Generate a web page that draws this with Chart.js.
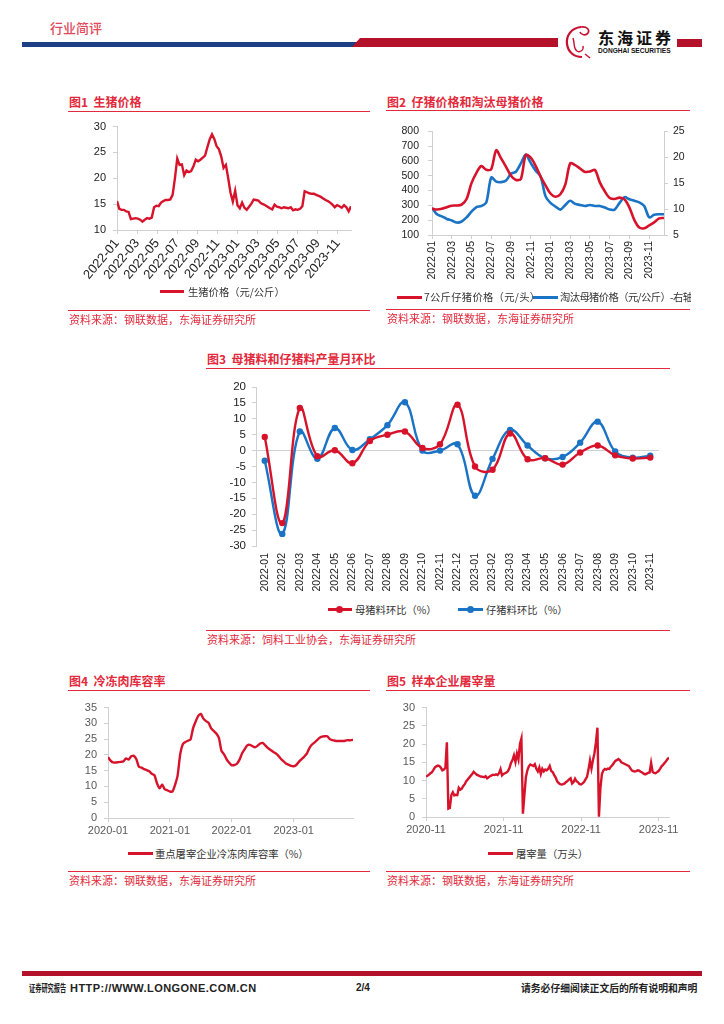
<!DOCTYPE html>
<html>
<head>
<meta charset="utf-8">
<script src="https://cdn.jsdelivr.net/npm/chart.js@4.4.0/dist/chart.umd.min.js"></script>
<style>
  html, body { margin:0; padding:0; background:#fff; }
  #page { position:relative; width:724px; height:1024px; overflow:hidden; background:#fff;
          font-family:"Noto Sans CJK SC","Liberation Sans",sans-serif; }
  .abs { position:absolute; }
  .title { position:absolute; font-size:12px; font-weight:700; color:#e22a3c; line-height:14px; white-space:nowrap; }
  .rule { position:absolute; height:1px; background:#e22a3c; }
  .src { position:absolute; font-size:11px; color:#e22a3c; line-height:13px; white-space:nowrap; }
  .leg { position:absolute; font-size:10.3px; color:#333; line-height:12px; white-space:nowrap; }
  .sw { position:absolute; height:3px; }
  .dot { position:absolute; width:7px; height:7px; border-radius:50%; }
  .foot { position:absolute; top:982px; font-size:10px; line-height:12px; font-weight:700; color:#222; white-space:nowrap; }
  canvas { position:absolute; }
</style>
</head>
<body>
<div id="page">
  <!-- header -->
  <div class="abs" style="left:50px;top:20px;font-size:13px;line-height:16px;color:#e04858;font-weight:500;">行业简评</div>
  <div class="abs" style="left:22px;top:42px;width:336px;height:5px;background:#1d3f86;"></div>
  <div class="abs" style="left:352px;top:38px;width:206px;height:9px;background:#b3122a;clip-path:polygon(8px 0,100% 0,100% 100%,0 100%);"></div>
  <svg class="abs" style="left:561px;top:24px;" width="34" height="36" viewBox="0 0 34 36">
    <path d="M20 3 C10 4 5 12 6 20 C7 28 13 33 21 33" fill="none" stroke="#c8102e" stroke-width="2.2"/>
    <path d="M20 3 C26 2 29 6 27 9 C25 12 20 11 19 8" fill="none" stroke="#c8102e" stroke-width="1.6"/>
    <path d="M12 14 C14 20 12 24 16 27 C19 29 23 26 22 22" fill="none" stroke="#c8102e" stroke-width="1.4"/>
    <path d="M24 30 L29 34" stroke="#c8102e" stroke-width="1.4"/>
  </svg>
  <div class="abs" style="left:598px;top:28px;font-size:16px;line-height:18px;font-weight:700;color:#111;letter-spacing:3px;">东海证券</div>
  <div class="abs" style="left:598px;top:47px;font-size:6.6px;line-height:7px;font-weight:700;color:#111;font-family:'Liberation Sans',sans-serif;">DONGHAI SECURITIES</div>
  <div class="abs" style="left:677px;top:39px;width:25px;height:8px;background:#b3122a;"></div>

  <!-- chart 1 -->
  <div class="title" style="left:69px;top:95px;">图1&nbsp;&nbsp;生猪价格</div>
  <div class="rule" style="left:68px;top:111px;width:302px;"></div>
  <canvas id="c1" style="left:68px;top:113px;" width="300" height="175"></canvas>
  <div class="sw" style="left:160px;top:290px;width:24px;background:#d7132b;"></div>
  <div class="leg" style="left:188px;top:286px;">生猪价格（元/公斤）</div>
  <div class="rule" style="left:68px;top:310px;width:302px;"></div>
  <div class="src" style="left:69px;top:313px;">资料来源：钢联数据，东海证券研究所</div>

  <!-- chart 2 -->
  <div class="title" style="left:387px;top:95px;">图2&nbsp;&nbsp;仔猪价格和淘汰母猪价格</div>
  <div class="rule" style="left:386px;top:110px;width:304px;"></div>
  <canvas id="c2" style="left:386px;top:116px;" width="310" height="172"></canvas>
  <div class="abs" style="left:386px;top:288px;width:305px;height:18px;overflow:hidden;">
    <div class="sw" style="left:11px;top:8px;width:25px;background:#d7132b;"></div>
    <div class="leg" style="left:38px;top:3px;letter-spacing:0.3px;">7公斤仔猪价格（元/头）</div>
    <div class="sw" style="left:147px;top:8px;width:25px;background:#1a73c4;"></div>
    <div class="leg" style="left:174px;top:3px;letter-spacing:-0.6px;">淘汰母猪价格（元/公斤）-右轴</div>
  </div>
  <div class="rule" style="left:386px;top:309px;width:304px;"></div>
  <div class="src" style="left:387px;top:312px;">资料来源：钢联数据，东海证券研究所</div>

  <!-- chart 3 -->
  <div class="title" style="left:207px;top:352px;">图3&nbsp;&nbsp;母猪料和仔猪料产量月环比</div>
  <div class="rule" style="left:206px;top:368px;width:464px;"></div>
  <canvas id="c3" style="left:206px;top:372px;" width="464" height="228"></canvas>
  <div class="sw" style="left:328px;top:608px;width:24px;background:#d7132b;"></div>
  <div class="dot" style="left:336px;top:606px;background:#d7132b;"></div>
  <div class="leg" style="left:355px;top:604px;">母猪料环比（%）</div>
  <div class="sw" style="left:458px;top:608px;width:25px;background:#1a73c4;"></div>
  <div class="dot" style="left:467px;top:606px;background:#1a73c4;"></div>
  <div class="leg" style="left:486px;top:604px;">仔猪料环比（%）</div>
  <div class="rule" style="left:206px;top:630px;width:464px;"></div>
  <div class="src" style="left:207px;top:633px;">资料来源：饲料工业协会，东海证券研究所</div>

  <!-- chart 4 -->
  <div class="title" style="left:69px;top:674px;">图4&nbsp;&nbsp;冷冻肉库容率</div>
  <div class="rule" style="left:68px;top:690px;width:302px;"></div>
  <canvas id="c4" style="left:68px;top:694px;" width="300" height="148"></canvas>
  <div class="sw" style="left:128px;top:852px;width:25px;background:#d7132b;"></div>
  <div class="leg" style="left:155px;top:848px;">重点屠宰企业冷冻肉库容率（%）</div>
  <div class="rule" style="left:68px;top:871px;width:302px;"></div>
  <div class="src" style="left:69px;top:874px;">资料来源：钢联数据，东海证券研究所</div>

  <!-- chart 5 -->
  <div class="title" style="left:387px;top:674px;">图5&nbsp;&nbsp;样本企业屠宰量</div>
  <div class="rule" style="left:386px;top:690px;width:304px;"></div>
  <canvas id="c5" style="left:386px;top:694px;" width="300" height="148"></canvas>
  <div class="sw" style="left:488px;top:852px;width:25px;background:#d7132b;"></div>
  <div class="leg" style="left:516px;top:848px;">屠宰量（万头）</div>
  <div class="rule" style="left:386px;top:871px;width:304px;"></div>
  <div class="src" style="left:387px;top:874px;">资料来源：钢联数据，东海证券研究所</div>

  <!-- footer -->
  <div class="abs" style="left:22px;top:971px;width:680px;height:5px;background:#b3122a;"></div>
  <div class="foot" style="left:29px;transform:scaleX(0.62);transform-origin:left center;">证券研究报告</div>
  <div class="foot" style="left:70px;font-size:11px;letter-spacing:0.45px;font-family:'Liberation Sans',sans-serif;">HTTP://WWW.LONGONE.COM.CN</div>
  <div class="foot" style="left:356px;font-family:'Liberation Sans',sans-serif;">2/4</div>
  <div class="foot" style="left:521px;transform:scaleX(0.98);transform-origin:left center;">请务必仔细阅读正文后的所有说明和声明</div>
</div>

<script>
// ---------------- DATA ----------------
// Chart 1: live hog price (yuan/kg), weekly from 2022-01
const pigPrice = [15.6,14.1,13.9,13.9,13.6,13.5,12.1,12.2,12.3,12.2,12.0,11.6,12.0,12.3,12.2,12.4,14.4,14.7,14.6,15.3,
  15.6,15.8,15.8,15.9,16.8,20.0,23.8,22.6,22.7,20.6,21.5,21.2,21.4,22.3,23.6,23.3,23.6,24.0,24.4,26.0,
  27.5,28.5,27.6,26.2,25.6,24.2,22.0,22.6,20.0,17.2,15.5,17.6,14.8,14.2,15.3,14.3,13.9,14.5,15.1,15.9,
  15.8,15.7,15.2,15.0,14.8,14.5,14.2,14.0,14.9,14.5,14.4,14.2,14.4,14.3,14.2,14.4,13.8,14.0,13.9,14.1,
  14.6,17.5,17.3,17.1,17.0,17.0,16.8,16.6,16.4,16.1,15.8,15.6,15.3,14.9,14.4,14.8,14.6,14.3,14.8,14.4,
  13.6,14.6];
const pigTickLabels = ['2022-01','2022-03','2022-05','2022-07','2022-09','2022-11','2023-01','2023-03','2023-05','2023-07','2023-09','2023-11'];

// Chart 2: 7kg piglet price (yuan/head, left) & culled sow price (yuan/kg, right), semi-monthly from 2022-01
const pigletPrice = [278,272,277,288,298,299,305,343,450,520,565,540,545,672,617,560,500,472,478,640,
  622,566,495,435,380,358,375,440,583,572,549,526,528,540,455,395,350,343,352,340,
  285,200,150,146,165,185,212,215];
const sowPrice = [10.2,9.0,8.6,8.1,7.8,7.4,7.6,8.4,9.5,10.4,10.6,11.3,16.1,15.3,15.2,15.5,16.8,17.2,18.8,20.5,
  18.9,17.4,16.3,12.5,11.2,10.5,9.9,10.8,11.6,11.0,10.8,10.6,10.8,10.6,10.6,10.3,9.9,9.9,11.2,12.3,
  11.9,11.6,11.3,10.6,8.4,8.9,9.0,9.0];
const pigletTickLabels = pigTickLabels;

// Chart 3: month-on-month output of sow feed and piglet feed (%)
const feedMonths = ['2022-01','2022-02','2022-03','2022-04','2022-05','2022-06','2022-07','2022-08','2022-09','2022-10','2022-11','2022-12',
  '2023-01','2023-02','2023-03','2023-04','2023-05','2023-06','2023-07','2023-08','2023-09','2023-10','2023-11'];
const sowFeed = [4.3,-22.8,13.4,-1.8,0.1,-4.0,3.0,5.0,6.0,0.8,2.0,14.4,-5.0,-6.0,5.4,-2.7,-2.4,-4.4,-0.6,1.6,-1.5,-2.5,-2.2];
const pigletFeed = [-3.2,-26.2,6.0,-2.6,7.1,0.2,3.6,8.0,15.2,0.0,0.0,2.0,-14.2,-2.6,6.5,1.6,-2.4,-2.0,2.5,9.1,-0.3,-2.2,-1.6];

// Chart 4: frozen meat storage rate (%), semi-monthly from 2020-01
const coldStorage = [19.3,18.2,17.6,17.6,17.7,17.8,18.0,18.9,18.5,19.6,19.7,18.6,16.2,16.0,15.5,15.2,14.8,14.0,13.6,11.0,
  9.4,10.6,9.1,8.8,8.4,8.4,10.5,13.5,20.2,23.4,24.1,24.5,24.9,28.5,30.6,32.4,33.0,31.5,30.7,30.2,
  28.4,27.6,26.8,25.4,21.3,20.2,18.6,17.5,16.7,16.8,17.2,18.5,20.5,21.8,23.0,23.2,22.8,22.4,22.9,23.6,
  23.8,23.0,22.2,21.6,21.0,20.5,19.8,18.8,18.0,17.3,16.9,16.5,16.4,16.8,17.8,18.6,19.4,20.3,22.0,23.2,
  23.9,24.6,25.4,25.8,25.9,25.9,25.0,24.7,24.5,24.4,24.4,24.4,24.5,24.7,24.6,24.8];
const coldTickLabels = ['2020-01','2021-01','2022-01','2023-01'];

// Chart 5: slaughter volume of sample enterprises (10k head), weekly from 2020-11
const slaughter = [11.1,11.3,11.6,12.0,12.3,12.9,13.6,13.9,14.1,14.0,13.5,12.8,13.0,13.5,20.5,2.3,2.5,6.0,6.8,5.9,
  6.1,6.0,8.0,7.5,7.8,8.5,9.0,9.8,10.3,10.8,11.3,11.8,12.4,12.0,11.6,11.4,11.2,11.1,11.0,10.9,
  11.2,10.6,10.9,11.2,11.4,11.6,11.5,11.7,11.5,12.0,13.1,11.4,11.8,12.0,12.2,12.6,13.4,14.8,15.6,16.9,
  15.1,17.4,15.8,20.0,21.5,0.9,6.0,10.9,12.8,13.9,14.4,14.2,14.0,14.5,13.2,12.5,13.6,11.8,13.2,12.5,
  13.0,12.8,13.2,14.0,12.6,12.3,11.5,10.8,9.8,9.3,9.0,8.9,9.0,9.2,9.6,9.9,10.3,10.6,9.2,9.6,
  10.5,9.8,9.5,9.0,8.9,9.2,9.6,10.3,11.0,13.0,15.5,13.3,15.6,17.5,20.5,24.5,0.1,8.0,11.8,12.8,
  13.2,13.0,13.3,13.2,13.8,14.2,14.8,15.4,15.6,15.9,15.6,15.0,14.8,14.6,14.4,14.2,14.0,13.4,12.8,12.6,
  12.5,12.6,12.8,12.7,12.4,12.2,11.9,11.7,11.9,12.1,12.2,14.8,12.4,12.1,12.0,12.3,12.6,13.2,13.9,14.3,
  14.8,15.3,15.9,16.3];
const slaughterTickLabels = ['2020-11','2021-11','2022-11','2023-11'];

// sampling steps (in months)
const WEEK = 12 / 52;
const HALF_MONTH = 0.5;

// ---------------- HELPERS ----------------
const RED = '#d7132b', BLUE = '#1a73c4', AXIS = '#d0d0d0';
Chart.defaults.font.family = '"Liberation Sans", Arial, "Noto Sans CJK SC", sans-serif';
Chart.defaults.animation = false;

function series(values, step) { return values.map((v, i) => ({ x: i * step, y: v })); }

function timeAxis(labels, every, maxVal, height, fontSize, color, rotation) {
  return {
    type: 'linear', min: 0, max: maxVal,
    afterBuildTicks: s => { s.ticks = labels.map((_, i) => ({ value: i * every })); },
    afterFit: s => { s.height = height; },
    ticks: { autoSkip: false, maxRotation: rotation, minRotation: rotation, padding: 2,
             color: color, font: { size: fontSize }, callback: (v, i) => labels[i] },
    grid: { drawOnChartArea: false, drawTicks: true, tickLength: 4, color: AXIS },
    border: { display: true, color: AXIS }
  };
}
function valueAxis(min, max, step, width, fontSize, color, position, pad) {
  return {
    type: 'linear', position: position || 'left', min: min, max: max,
    afterFit: s => { s.width = width; },
    ticks: { stepSize: step, autoSkip: false, color: color, font: { size: fontSize }, padding: pad },
    grid: { drawOnChartArea: false, drawTicks: true, tickLength: 4, color: AXIS },
    border: { display: true, color: AXIS }
  };
}
const common = (padding) => ({
  responsive: false, animation: false,
  layout: { padding: padding },
  plugins: { legend: { display: false }, tooltip: { enabled: false } },
  elements: { point: { radius: 0 } }
});

// ---------------- CHART 1 ----------------
new Chart(document.getElementById('c1'), {
  type: 'line',
  data: { datasets: [{ label: '生猪价格（元/公斤）', data: series(pigPrice, WEEK),
    borderColor: RED, borderWidth: 2.4, tension: 0 }] },
  options: Object.assign(common({ top: 12, right: 17, left: 0, bottom: 0 }), {
    scales: {
      x: timeAxis(pigTickLabels, 2, (pigPrice.length - 1) * WEEK, 58, 13, '#222', 50),
      y: valueAxis(10, 30, 5, 49, 11, '#222', 'left', 7)
    }
  })
});

// ---------------- CHART 2 ----------------
new Chart(document.getElementById('c2'), {
  type: 'line',
  data: { datasets: [
    { label: '7公斤仔猪价格（元/头）', data: series(pigletPrice, HALF_MONTH), borderColor: RED, borderWidth: 2.6, tension: 0.3, yAxisID: 'y' },
    { label: '淘汰母猪价格（元/公斤）-右轴', data: series(sowPrice, HALF_MONTH), borderColor: BLUE, borderWidth: 2.6, tension: 0.3, yAxisID: 'y2' }
  ] },
  options: Object.assign(common({ top: 13, right: 0, left: 0, bottom: 0 }), {
    scales: {
      x: timeAxis(pigletTickLabels, 2, (pigletPrice.length - 1) * HALF_MONTH, 53, 10.5, '#222', 90),
      y: valueAxis(100, 800, 100, 46, 10.5, '#222', 'left', 9),
      y2: valueAxis(5, 25, 5, 32, 10.5, '#222', 'right', 5)
    }
  })
});

// ---------------- CHART 3 ----------------
new Chart(document.getElementById('c3'), {
  type: 'line',
  data: { labels: feedMonths, datasets: [
    { label: '母猪料环比（%）', data: sowFeed, borderColor: RED, backgroundColor: RED, borderWidth: 2.4,
      tension: 0.4, pointRadius: 3.2, pointBackgroundColor: RED, pointBorderWidth: 0 },
    { label: '仔猪料环比（%）', data: pigletFeed, borderColor: BLUE, backgroundColor: BLUE, borderWidth: 2.4,
      tension: 0.4, pointRadius: 3.2, pointBackgroundColor: BLUE, pointBorderWidth: 0 }
  ] },
  options: Object.assign(common({ top: 15, right: 7, left: 0, bottom: 0 }), {
    scales: {
      x: { type: 'category', offset: true,
           afterFit: s => { s.height = 54; },
           ticks: { autoSkip: false, maxRotation: 90, minRotation: 90, padding: 7, color: '#222', font: { size: 10.5 } },
           grid: { display: false, drawTicks: false }, border: { display: false } },
      y: { min: -30, max: 20,
           afterFit: s => { s.width = 50; },
           ticks: { stepSize: 5, autoSkip: false, color: '#222', font: { size: 11.5 }, padding: 6 },
           grid: { drawOnChartArea: true, drawTicks: true, tickLength: 4, tickColor: AXIS,
                   color: c => (c.tick && c.tick.value === 0) ? AXIS : 'rgba(0,0,0,0)' },
           border: { display: true, color: AXIS } }
    }
  })
});

// ---------------- CHART 4 ----------------
new Chart(document.getElementById('c4'), {
  type: 'line',
  data: { datasets: [{ label: '重点屠宰企业冷冻肉库容率（%）', data: series(coldStorage, HALF_MONTH),
    borderColor: RED, borderWidth: 2.4, tension: 0.2 }] },
  options: Object.assign(common({ top: 11, right: 15, left: 0, bottom: 0 }), {
    scales: {
      x: timeAxis(coldTickLabels, 12, (coldStorage.length - 1) * HALF_MONTH, 24, 11, '#595959', 0),
      y: valueAxis(0, 35, 5, 40, 11, '#595959', 'left', 7)
    }
  })
});

// ---------------- CHART 5 ----------------
new Chart(document.getElementById('c5'), {
  type: 'line',
  data: { datasets: [{ label: '屠宰量（万头）', data: series(slaughter, WEEK),
    borderColor: RED, borderWidth: 2.4, tension: 0 }] },
  options: Object.assign(common({ top: 13, right: 17, left: 0, bottom: 0 }), {
    scales: {
      x: timeAxis(slaughterTickLabels, 12, (slaughter.length - 1) * WEEK, 25, 11, '#595959', 0),
      y: valueAxis(0, 30, 5, 40, 11, '#595959', 'left', 7)
    }
  })
});
</script>
</body>
</html>
